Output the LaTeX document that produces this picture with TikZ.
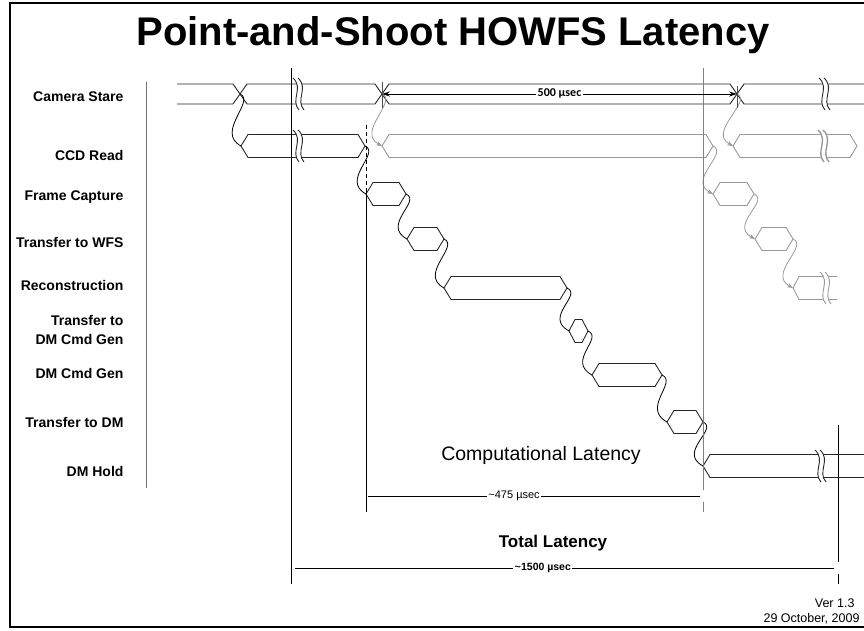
\documentclass[tikz,border=0pt]{standalone}
\usepackage{fontspec}
\setmainfont{Liberation Sans}
\newfontfamily\calib{Carlito}
\usetikzlibrary{arrows.meta}
\newcommand\hexa[5][7]{\draw[#2] (#3,#5) -- ({#3+#1},{#5-11.5}) -- ({#4-#1},{#5-11.5}) -- (#4,#5) -- ({#4-#1},{#5+11.5}) -- ({#3+#1},{#5+11.5}) -- cycle;}
\newcommand\brk[3]{\begin{scope}[shift={(#2,#3)}]
 \fill[white] (-5,-16) .. controls (6,-6) and (-8,6) .. (1,16) -- (6,16) .. controls (-3,6) and (11,-6) .. (0,-16) -- cycle;
 \draw[#1] (-5,-16) .. controls (6,-6) and (-8,6) .. (1,16);
 \draw[#1] (0,-16) .. controls (11,-6) and (-3,6) .. (6,16);
\end{scope}}
\begin{document}
\begin{tikzpicture}[x=1pt,y=-1pt,
  sig/.style={line width=0.9pt, black!85, line join=miter},
  gsig/.style={line width=0.9pt, black!40},
  conn/.style={line width=0.8pt, black, to path={.. controls +(16,7) and +(-26,-14) .. (\tikztotarget)}},
  gconn/.style={conn, black!40, -{Stealth[length=6pt,width=4.5pt]}},
  lab/.style={anchor=east, font=\fontsize{14}{18.5}\selectfont\bfseries, align=right},
  vline/.style={line width=1pt, black},
  dimlab/.style={fill=white, inner sep=1.5pt}]
\useasboundingbox (0,0) rectangle (864,631);
% frame
\draw[line width=2pt] (864,3.5) -- (9.5,3.5) -- (9.5,627) -- (864,627);
% title
\node[font=\fontsize{40}{44}\selectfont\bfseries] (title) at (453,35) {Point-and-Shoot HOWFS Latency};
% labels
\node[lab] (l1) at (127,97) {Camera Stare};
\node[lab] (l2) at (127,155) {CCD Read};
\node[lab] (l3) at (127,197) {Frame Capture};
\node[lab] (l4) at (127,242) {Transfer to WFS};
\node[lab] (l5) at (127,285) {Reconstruction};
\node[lab] (l6) at (127,330) {Transfer to\\DM Cmd Gen};
\node[lab] (l7) at (127,373) {DM Cmd Gen};
\node[lab] (l8) at (127,422) {Transfer to DM};
\node[lab] (l9) at (127,471) {DM Hold};
\draw[line width=1pt, black!55] (146,82) -- (146,488);
% camera stare
\draw[sig] (177,84) -- (233,84) -- (247,104) -- (375,104) -- (389,84) -- (730,84) -- (744,104) -- (864,104);
\draw[sig] (177,104) -- (233,104) -- (247,84) -- (375,84) -- (389,104) -- (730,104) -- (744,84) -- (864,84);
\brk{sig}{298}{94}
\brk{sig}{824}{94}
% CCD read
\hexa{sig}{241}{365}{146}
\brk{sig}{298}{146}
\hexa{gsig}{382}{713}{146}
\hexa{gsig}{733}{857}{146}
\brk{gsig,line width=1.4pt}{823}{146}
% frame capture etc.
\hexa{sig}{366}{406}{194}
\hexa{gsig}{713}{754}{194}
\hexa{sig}{407}{444}{239}
\hexa{gsig}{755}{793}{239}
\hexa{sig}{444}{567}{288}
\draw[gsig] (837,276.5) -- (799,276.5) -- (793,288) -- (799,299.5) -- (837,299.5);
\brk{gsig}{825}{288}
\hexa[6]{sig}{569}{588}{331}
\hexa{sig}{592}{662}{375}
\hexa{sig}{667}{703}{422}
\draw[sig] (864,454.5) -- (710,454.5) -- (703,466) -- (710,477.5) -- (864,477.5);
\brk{sig}{820}{466}
% connector points
\coordinate (x1) at (240,94);
\coordinate (c1) at (241,146);
\coordinate (c1e) at (365,146);
\coordinate (f1) at (366,194);
\coordinate (f1e) at (406,194);
\coordinate (w1) at (407,239);
\coordinate (w1e) at (444,239);
\coordinate (r1) at (444,288);
\coordinate (r1e) at (567,288);
\coordinate (t1) at (569,331);
\coordinate (t1e) at (588,331);
\coordinate (d1) at (592,375);
\coordinate (d1e) at (662,375);
\coordinate (m1) at (667,422);
\coordinate (m1e) at (703,422);
\coordinate (h1) at (703,466);
\coordinate (x2) at (382,94);
\coordinate (c2) at (382,146);
\coordinate (c2e) at (713,146);
\coordinate (f2) at (713,194);
\coordinate (f2e) at (754,194);
\coordinate (w2) at (755,239);
\coordinate (w2e) at (793,239);
\coordinate (r2) at (793,288);
\coordinate (x3) at (737,94);
\coordinate (c3) at (733,146);
\draw[conn] (x1) to (c1);
\draw[conn] (c1e) to (f1);
\draw[conn] (f1e) to (w1);
\draw[conn] (w1e) to (r1);
\draw[conn] (r1e) to (t1);
\draw[conn] (t1e) to (d1);
\draw[conn] (d1e) to (m1);
\draw[conn] (m1e) to (h1);
\draw[gconn] (x2) to (c2);
\draw[gconn] (c2e) to (f2);
\draw[gconn] (f2e) to (w2);
\draw[gconn] (w2e) to (r2);
\draw[gconn] (x3) to (c3);
% verticals
\draw[vline] (291,68) -- (291,584);
\draw[vline, dash pattern=on 4pt off 3pt] (366,125) -- (366,192);
\draw[vline] (366,192) -- (366,512);
\draw[line width=1pt, black!50] (703,68) -- (703,490) (703,502) -- (703,512);
\draw[vline] (838,425) -- (838,562) (838,574) -- (838,584);
\draw[line width=0.9pt, black!70] (382,82) -- (382,108);
\draw[line width=0.9pt, black!70] (737,86) -- (737,108);
% dimensions
\draw[line width=0.8pt, {Stealth[length=8pt,width=5pt]}-{Stealth[length=8pt,width=5pt]}] (x2) -- (x3)
  node[midway, dimlab, font=\calib\bfseries\fontsize{12}{14}\selectfont] (d500) {500 µsec};
\coordinate (a1) at (368,496);
\coordinate (a2) at (700,496);
\draw[line width=0.7pt] (a1) -- (a2) node[pos=0.44, dimlab, font=\fontsize{11}{13}\selectfont] (d475) {\textasciitilde475 µsec};
\coordinate (b1) at (295,568);
\coordinate (b2) at (834,568);
\draw[line width=0.7pt] (b1) -- (b2) node[pos=0.46, dimlab, font=\fontsize{10.5}{13}\selectfont\bfseries] (d1500) {\textasciitilde1500 µsec};
\node[font=\fontsize{19.5}{22}\selectfont] (comp) at (541,455) {Computational Latency};
\node[font=\fontsize{17}{20}\selectfont\bfseries] (tot) at (553,543) {Total Latency};
\node[font=\fontsize{12.5}{15}\selectfont, anchor=east] (ver) at (858,603) {Ver 1.3};
\node[font=\fontsize{12.5}{15}\selectfont, anchor=east] (date) at (863,619) {29 October, 2009};
\end{tikzpicture}
\end{document}
